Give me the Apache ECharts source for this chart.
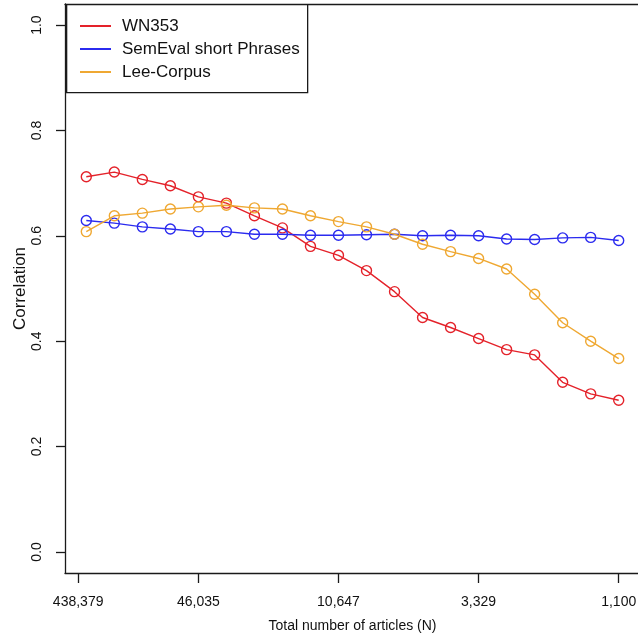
<!DOCTYPE html>
<html>
<head>
<meta charset="utf-8">
<script src="https://cdn.jsdelivr.net/npm/echarts@6/dist/echarts.min.js"></script>
<style>
html,body{margin:0;padding:0;background:#fff;}
#chart{width:638px;height:637px;}
</style>
</head>
<body>
<div id="chart"></div>
<script>
// Series names
const seriesNames = ['WN353', 'SemEval short Phrases', 'Lee-Corpus'];
// Values per point (point index 1..20, left = most articles)
const wn353 = [0.712, 0.721, 0.707, 0.695, 0.674, 0.662, 0.638, 0.615, 0.580, 0.563,
               0.534, 0.494, 0.445, 0.426, 0.405, 0.384, 0.374, 0.322, 0.300, 0.288];
const semeval = [0.629, 0.624, 0.617, 0.613, 0.608, 0.608, 0.603, 0.603, 0.601, 0.601,
                 0.602, 0.603, 0.600, 0.601, 0.600, 0.594, 0.593, 0.596, 0.597, 0.591];
const leeCorpus = [0.608, 0.638, 0.643, 0.651, 0.655, 0.658, 0.653, 0.651, 0.638, 0.627,
                   0.617, 0.603, 0.584, 0.570, 0.557, 0.537, 0.489, 0.435, 0.400, 0.367];
// X tick positions (point index scale) and their labels
const xTickPositions = [0.71, 5, 10, 15, 20];
const xTickLabels = ['438,379', '46,035', '10,647', '3,329', '1,100'];
// Y ticks
const yTicks = [0, 0.2, 0.4, 0.6, 0.8, 1.0];

const colors = ['#e4222a', '#2b2bef', '#efa832'];
const FONT = 'Liberation Sans, Arial, Helvetica, sans-serif';
const AX = '#1a1a1a';

function toPoints(arr){ return arr.map((v,i)=>[i+1, v]); }
const allVals = [wn353, semeval, leeCorpus];

const chart = echarts.init(document.getElementById('chart'), null, {renderer:'canvas'});
const option = {
  backgroundColor: '#ffffff',
  animation: false,
  grid: {
    left: 65, top: 4, width: 575, height: 569,
    containLabel: false,
    outerBoundsMode: 'none',
    show: false
  },
  xAxis: [{
    type: 'value',
    min: 0.24, max: 20.76,
    name: 'Total number of articles (N)',
    nameLocation: 'middle',
    nameGap: 46,
    nameMoveOverlap: false,
    nameTextStyle: {fontFamily: FONT, fontSize: 14, color: '#111'},
    axisLine: {show: true, onZero: false, lineStyle: {color: AX, width: 1.3}},
    axisTick: {show: true, inside: false, length: 10, lineStyle: {color: AX, width: 1.3},
               customValues: xTickPositions},
    axisLabel: {show: true, margin: 22, fontFamily: FONT, fontSize: 14, color: '#111',
                customValues: xTickPositions,
                formatter: function(v){
                  const k = xTickPositions.findIndex(p => Math.abs(p - v) < 1e-6);
                  return k >= 0 ? xTickLabels[k] : '';
                }},
    splitLine: {show: false}
  }, {
    type: 'value',
    position: 'top',
    min: 0.24, max: 20.76,
    axisLine: {show: true, onZero: false, lineStyle: {color: AX, width: 1.3}},
    axisTick: {show: false},
    axisLabel: {show: false},
    splitLine: {show: false}
  }],
  yAxis: {
    type: 'value',
    min: -0.04, max: 1.04,
    name: 'Correlation',
    nameLocation: 'middle',
    nameGap: 36,
    nameMoveOverlap: false,
    nameRotate: 90,
    nameTextStyle: {fontFamily: FONT, fontSize: 17, color: '#111'},
    axisLine: {show: true, onZero: false, lineStyle: {color: AX, width: 1.3}},
    axisTick: {show: true, inside: false, length: 9, lineStyle: {color: AX, width: 1.3},
               customValues: yTicks},
    axisLabel: {show: true, rotate: 90, margin: 21, fontFamily: FONT, fontSize: 14, color: '#111',
                customValues: yTicks,
                formatter: function(v){ return v.toFixed(1); }},
    splitLine: {show: false}
  },
  legend: {
    orient: 'vertical',
    left: 80, top: 14.5,
    padding: 0,
    itemWidth: 31, itemHeight: 2,
    itemGap: 0,
    icon: 'rect',
    selectedMode: false,
    textStyle: {fontFamily: FONT, fontSize: 17, color: '#111', lineHeight: 23, padding: [0,0,0,6]},
    data: seriesNames.map((n,i)=>({name: n, icon: 'rect', itemStyle: {color: colors[i], borderWidth: 0}})),
    z: 10
  },
  graphic: [{
    type: 'rect',
    left: 66, top: 4,
    shape: {width: 241, height: 88},
    style: {fill: '#fff', stroke: AX, lineWidth: 1.3},
    z: 5
  }],
  series: seriesNames.map((n,i)=>({
    name: n,
    type: 'line',
    xAxisIndex: 0,
    data: toPoints(allVals[i]),
    symbol: 'circle',
    symbolSize: 10,
    showSymbol: true,
    lineStyle: {color: colors[i], width: 1.4},
    itemStyle: {color: 'rgba(255,255,255,0)', borderColor: colors[i], borderWidth: 1.4},
    emphasis: {disabled: true},
    z: 2 + i
  }))
};
chart.setOption(option);
</script>
</body>
</html>
